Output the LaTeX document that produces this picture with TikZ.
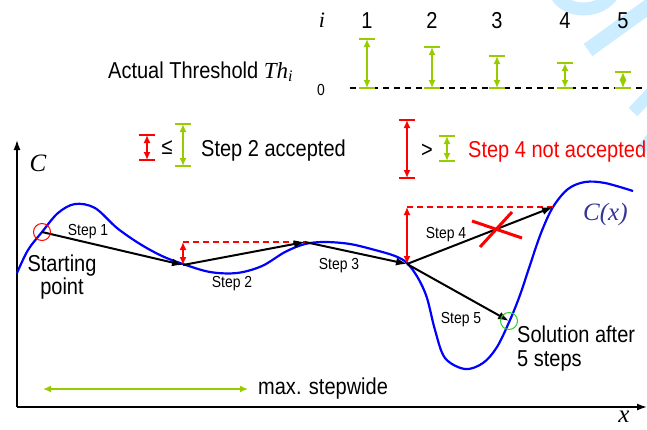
\documentclass[tikz,border=0pt]{standalone}
\usepackage{fontspec}
\setmainfont{Liberation Sans}[FakeStretch=0.87]
\newfontfamily\tms{Liberation Serif}
\usetikzlibrary{arrows.meta}
\definecolor{ygreen}{RGB}{153,204,0}
\definecolor{cxblue}{RGB}{51,51,153}
\definecolor{wmark}{RGB}{204,236,255}
\definecolor{solgreen}{RGB}{40,210,40}
\newcommand\tharr[4]{%
  \draw[#1,line width=1.5pt] ({#2-8},#3) -- ({#2+8},#3) ({#2-8},#4) -- ({#2+8},#4);
  \draw[#1,dblarr] (#2,#3) -- (#2,#4);}
\begin{document}
\begin{tikzpicture}[x=1pt,y=-1pt,
  big/.style={font=\fontsize{23}{23}\selectfont, inner sep=0pt},
  small/.style={font=\fontsize{16}{18}\selectfont, inner sep=0pt},
  serif/.style={font=\fontsize{25}{28}\selectfont\tms\itshape, inner sep=0pt},
  dblarr/.style={line width=1.5pt, {Latex[length=8pt,width=7pt]}-{Latex[length=8pt,width=7pt]}},
  steparrow/.style={line width=2pt, -{Latex[length=11pt,width=8pt]}},
  reddash/.style={red, line width=1.3pt, dash pattern=on 6pt off 4pt},
  axis/.style={line width=1.5pt, -{Latex[length=10pt,width=7pt]}}]
\useasboundingbox (0,0) rectangle (647,429);
% watermark
\draw[wmark, line width=13pt] (556,-6) .. controls (566,14) and (600,14) .. (613,-6);
\draw[wmark, line width=15pt] (588,50) -- (652,4);
\draw[wmark, line width=12pt] (633,112) -- (652,92);
\draw[wmark, line width=10pt] (641,150) -- (652,136);
% top threshold row
\node[font=\fontsize{22}{23}\selectfont\tms\itshape, inner sep=0pt, anchor=base] (ilab) at (322,27) {i};
\foreach \n/\xx in {1/367,2/432,3/497,4/565,5/623}
  \node[big, anchor=base] (num\n) at (\xx,28) {\n};
\node[big, anchor=base west] (actual) at (108,78) {Actual Threshold {\tms\itshape Th\textsubscript{i}}};
\node[font=\fontsize{16}{18}\selectfont, inner sep=0pt] (zero) at (321,90) {0};
\coordinate (d0) at (350,88);
\coordinate (d1) at (647,88);
\draw[line width=1.5pt, dash pattern=on 6pt off 5pt] (d0) -- (d1);
\tharr{ygreen}{367}{39}{88}
\tharr{ygreen}{432}{47}{88}
\tharr{ygreen}{497}{56}{88}
\tharr{ygreen}{565}{63}{88}
\tharr{ygreen}{623}{72}{88}
% middle legend row
\tharr{red}{147}{135}{160}
\node[big, anchor=center] (leq) at (167,148) {≤};
\tharr{ygreen}{183}{124}{166}
\node[big, anchor=base west] (acc) at (201,156) {Step 2 accepted};
\tharr{red}{407}{120}{178}
\node[big, anchor=center] (gt) at (427,151) {>};
\tharr{ygreen}{447}{136}{161}
\node[big, anchor=base west, text=red] (nacc) at (468,157) {Step 4 not accepted};
% axes
\coordinate (o) at (17,407);
\coordinate (ytop) at (17,140);
\coordinate (xend) at (647,407);
\draw[axis] (o) -- (ytop);
\draw[axis] (o) -- (xend);
\node[serif, anchor=base] (clab) at (38,171) {C};
\node[serif, anchor=base] (xlab) at (624,422) {x};
\node[serif, anchor=base west, text=cxblue] (cx) at (583,220) {C(x)};
% curve
\draw[blue, line width=2.2pt] plot[smooth, tension=0.55] coordinates {
 (17,273) (28,250) (42,232) (58,213) (75,204) (95,208) (117,228) (140,244)
 (162,256) (183,264) (210,272) (237,273) (262,266) (285,252) (305,244)
 (325,242) (350,244) (375,250) (395,256) (407,263) (418,278) (427,298)
 (435,330) (445,358) (465,369) (483,363) (497,347) (510,320) (520,295)
 (530,265) (541,233) (553,207) (568,189) (585,182) (605,183) (633,191)};
% points
\coordinate (p0) at (42,232);
\coordinate (p1) at (183,265);
\coordinate (p2) at (305,242);
\coordinate (p3) at (407,264);
\coordinate (p4) at (553,207);
\coordinate (p5) at (509,321);
\coordinate (q1) at (183,242);
\coordinate (q3) at (407,207);
% red threshold arrows in graph
\draw[reddash] (q1) -- (p2);
\draw[red, dblarr] (q1) -- (p1);
\draw[reddash] (q3) -- (p4);
\draw[red, dblarr] (q3) -- (p3);
% steps
\draw[steparrow] (p0) -- (p1);
\draw[steparrow] (p1) -- (p2);
\draw[steparrow] (p2) -- (p3);
\draw[steparrow] (p3) -- (p4);
\draw[steparrow] (p3) -- (p5);
\node[small, anchor=base] (s1) at (88,235) {Step 1};
\node[small, anchor=base] (s2) at (232,287) {Step 2};
\node[small, anchor=base] (s3) at (339,269) {Step 3};
\node[small, anchor=base] (s4) at (446,238) {Step 4};
\node[small, anchor=base] (s5) at (461,323) {Step 5};
% cross
\coordinate (xc) at (496,229);
\draw[red, line width=3pt] (472,221) -- (522,238) (512,212) -- (480,247);
% circles
\draw[red, line width=1pt] (p0) circle[radius=8.5];
\draw[solgreen, line width=1pt] (p5) circle[radius=8.5];
% labels
\node[big, align=center, anchor=base] (start) at (62,294) {Starting\\point};
\node[big, align=left, anchor=base west, font=\fontsize{23}{24}\selectfont] (sol) at (517,366) {Solution after\\5 steps};
% max stepwide
\coordinate (m0) at (43,389);
\coordinate (m1) at (248,389);
\draw[ygreen, dblarr] (m0) -- (m1);
\node[big, anchor=base west] (maxs) at (258,394) {max. stepwide};
\end{tikzpicture}
\end{document}
